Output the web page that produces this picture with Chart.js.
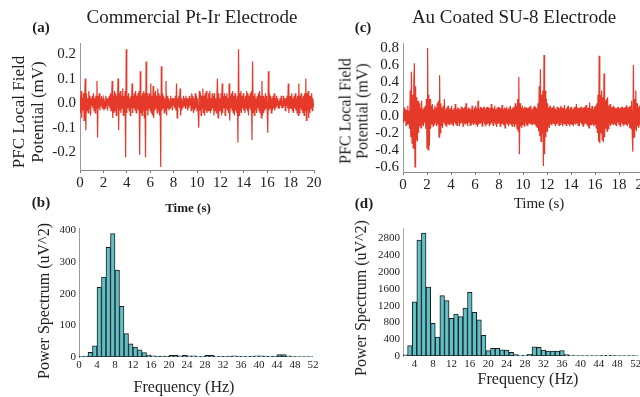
<!DOCTYPE html>
<html><head><meta charset="utf-8">
<script src="https://cdn.jsdelivr.net/npm/chart.js@4.4.0/dist/chart.umd.min.js"></script>
<style>
html,body{margin:0;padding:0;background:#fff;width:640px;height:397px;overflow:hidden;position:relative;font-family:"Liberation Serif","DejaVu Serif",serif;color:#1e1e1e;}
canvas{position:absolute;}
.t{position:absolute;white-space:nowrap;line-height:1;z-index:2;}
.b{font-weight:bold;}
.c{transform:translate(-50%,-50%);}
.rot{transform:translate(-50%,-50%) rotate(-90deg);text-align:center;}
</style></head><body>
<canvas id="ca" width="330" height="180" style="left:0px;top:20px"></canvas>
<canvas id="cc" width="345" height="180" style="left:320px;top:20px"></canvas>
<canvas id="cb" width="330" height="180" style="left:0px;top:205px"></canvas>
<canvas id="cd" width="345" height="180" style="left:320px;top:205px"></canvas>

<div class="t c" style="left:192px;top:16px;font-size:19px">Commercial Pt-Ir Electrode</div>
<div class="t c" style="left:514px;top:16px;font-size:19px">Au Coated SU-8 Electrode</div>
<div class="t c b" style="left:41px;top:27px;font-size:15px">(a)</div>
<div class="t c b" style="left:363px;top:27px;font-size:15px">(c)</div>
<div class="t c b" style="left:41px;top:202px;font-size:15px">(b)</div>
<div class="t c b" style="left:364px;top:203px;font-size:15px">(d)</div>
<div class="t rot" style="left:28px;top:112px;font-size:17px;line-height:18.5px">PFC Local Field<br>Potential (mV)</div>
<div class="t rot" style="left:354px;top:111px;font-size:16px;line-height:16.5px">PFC Local Field<br>Potential (mV)</div>
<div class="t c b" style="left:188px;top:207px;font-size:13px">Time (s)</div>
<div class="t c" style="left:539px;top:203px;font-size:15px">Time (s)</div>
<div class="t c" style="left:184px;top:387px;font-size:16px">Frequency (Hz)</div>
<div class="t c" style="left:528px;top:379px;font-size:16px">Frequency (Hz)</div>
<div class="t rot" style="left:44px;top:301px;font-size:16px">Power Spectrum (uV^2)</div>
<div class="t rot" style="left:361px;top:298px;font-size:16px">Power Spectrum (uV^2)</div>

<script>
const SERIF = "'Liberation Serif','DejaVu Serif',serif";
const sampleStep = 0.05; // s between samples

// (a) Commercial Pt-Ir electrode, PFC LFP (mV), one row per second
const potentialA = [
0.03,-0.04,0.05,-0.06,0.02,-0.03,0.04,-0.07,0.03,0.10,-0.11,0.04,-0.03,0.02,-0.04,0.05,-0.02,0.03,-0.05,0.02,
-0.01,0.03,-0.02,0.04,-0.03,0.02,-0.04,0.03,-0.02,0.09,-0.14,0.03,-0.02,0.04,-0.03,0.02,-0.01,0.03,-0.02,0.01,
0.02,-0.03,0.01,-0.02,0.03,-0.01,0.02,-0.03,0.02,-0.01,0.03,-0.02,0.04,-0.03,0.02,0.09,-0.06,0.03,-0.04,0.05,
-0.03,0.04,-0.05,0.03,-0.02,0.10,-0.11,0.04,-0.03,0.05,-0.04,0.03,-0.02,0.06,-0.05,0.03,-0.04,0.05,-0.22,0.22,
-0.04,0.03,-0.02,0.04,-0.03,0.02,-0.05,0.03,-0.02,0.08,-0.04,0.03,-0.02,0.04,-0.03,0.05,-0.04,0.03,-0.02,0.04,
-0.03,0.05,-0.21,0.13,-0.04,0.03,-0.05,0.04,-0.03,0.05,-0.06,0.04,-0.22,0.17,-0.03,0.04,-0.05,0.03,-0.02,0.04,
-0.03,0.08,-0.04,0.03,-0.05,0.07,-0.06,0.04,-0.03,0.05,-0.02,0.03,-0.04,0.06,-0.03,0.04,-0.05,0.03,-0.26,0.15,
-0.03,0.04,-0.02,0.03,-0.04,0.02,-0.03,0.09,-0.05,0.03,-0.02,0.02,-0.03,0.01,-0.02,0.03,-0.01,0.02,-0.03,0.02,
-0.01,0.02,-0.02,0.03,-0.03,0.08,-0.06,0.02,-0.01,0.03,-0.02,0.06,-0.05,0.02,-0.03,0.01,-0.02,0.03,-0.01,0.02,
-0.02,0.03,-0.01,0.02,-0.03,0.02,-0.02,0.03,-0.01,0.02,-0.03,0.04,-0.02,0.03,-0.04,0.02,-0.03,0.04,-0.02,0.03,
-0.03,0.02,-0.04,-0.10,0.05,-0.03,0.04,-0.05,0.03,-0.02,0.06,-0.04,0.03,-0.05,0.04,-0.03,0.05,-0.04,0.02,-0.03,
0.04,-0.03,0.05,-0.04,0.02,-0.03,0.04,-0.02,0.03,-0.05,0.04,-0.03,0.02,-0.04,0.03,0.10,-0.06,0.04,-0.03,0.02,
-0.03,0.04,-0.05,0.08,-0.04,0.03,-0.02,0.04,-0.05,0.03,-0.02,0.04,-0.03,0.02,-0.04,0.08,-0.07,0.03,-0.02,0.04,
-0.03,0.05,-0.04,0.03,-0.05,0.04,-0.03,0.02,-0.04,0.03,-0.16,0.22,-0.05,0.04,-0.03,0.05,-0.04,0.03,-0.02,0.04,
-0.03,0.02,-0.04,0.03,-0.02,0.05,-0.03,0.04,-0.05,0.03,-0.02,0.04,-0.03,0.05,-0.15,0.17,-0.04,0.03,-0.05,0.04,
-0.03,0.02,-0.04,0.03,-0.02,0.04,-0.03,0.05,-0.04,0.03,-0.06,0.09,-0.05,0.03,-0.04,0.02,-0.03,0.04,-0.02,0.03,
-0.03,-0.12,0.13,-0.03,0.04,-0.02,0.03,-0.04,0.02,-0.03,0.03,-0.02,0.04,-0.03,0.02,-0.02,0.03,-0.01,0.02,-0.02,
0.01,-0.02,0.02,-0.01,0.03,-0.02,0.01,-0.02,0.03,-0.01,0.02,-0.03,0.02,-0.01,0.03,-0.02,0.08,-0.04,0.03,-0.02,
0.03,-0.02,0.04,-0.03,0.02,-0.04,0.03,-0.02,0.04,-0.03,0.02,-0.04,0.03,-0.05,0.08,-0.04,0.03,-0.02,0.04,-0.03,
0.02,-0.04,0.03,-0.05,0.04,-0.03,0.10,-0.07,0.04,-0.03,0.05,-0.06,0.03,-0.04,0.03,-0.02,0.04,-0.03,0.02,-0.01,
0.00];

// (c) Au coated SU-8 electrode, PFC LFP (mV), one row per second
const potentialC = [
0.05,-0.08,0.10,-0.06,0.08,-0.11,0.07,-0.09,0.12,-0.10,0.06,-0.15,0.30,-0.25,0.52,-0.32,0.25,-0.38,0.40,0.62,
-0.60,0.35,-0.28,0.22,-0.30,0.18,-0.20,0.15,-0.12,0.10,-0.14,0.18,-0.10,0.08,-0.12,0.10,-0.08,0.12,-0.15,0.20,
-0.38,0.80,-0.40,0.25,-0.35,0.20,-0.15,0.12,-0.10,0.14,-0.12,0.08,-0.10,0.12,-0.08,0.10,-0.12,0.15,-0.10,0.18,
-0.25,0.48,-0.20,0.15,-0.12,0.10,-0.14,0.12,-0.08,0.20,-0.10,0.08,-0.12,0.10,-0.09,0.12,-0.10,0.08,-0.11,0.09,
-0.08,0.12,-0.10,0.07,-0.12,0.09,-0.08,0.14,-0.10,0.08,-0.11,0.10,-0.07,0.09,-0.12,0.08,-0.09,0.11,-0.08,0.10,
-0.12,0.09,-0.08,0.11,-0.10,0.15,-0.09,0.08,-0.12,0.10,-0.07,0.09,-0.11,0.08,-0.10,0.12,-0.09,0.07,-0.11,0.10,
-0.08,0.12,-0.10,0.09,-0.13,0.18,-0.10,0.08,-0.09,0.11,-0.08,0.10,-0.12,0.09,-0.07,0.11,-0.10,0.08,-0.12,0.10,
-0.09,0.11,-0.08,0.10,-0.12,0.09,-0.10,0.14,-0.08,0.10,-0.11,0.09,-0.07,0.12,-0.10,0.08,-0.13,0.10,-0.09,0.11,
-0.08,0.10,-0.12,0.09,-0.10,0.13,-0.09,0.08,-0.11,0.10,-0.14,0.09,-0.08,0.11,-0.10,0.08,-0.12,0.10,-0.09,0.12,
-0.10,0.08,-0.12,0.10,-0.09,0.11,-0.13,0.15,-0.10,0.12,-0.15,0.20,-0.18,0.46,-0.45,0.15,-0.12,0.10,-0.14,0.12,
-0.10,0.09,-0.12,0.11,-0.08,0.10,-0.11,0.09,-0.12,0.10,-0.08,0.11,-0.09,0.12,-0.10,0.08,-0.11,0.10,-0.09,0.12,
-0.10,0.11,-0.12,0.09,-0.14,0.15,-0.18,0.35,-0.24,0.55,-0.30,0.25,-0.20,0.30,-0.59,0.72,-0.45,0.30,-0.25,0.20,
-0.18,0.15,-0.12,0.10,-0.14,0.12,-0.10,0.09,-0.11,0.10,-0.08,0.12,-0.09,0.10,-0.12,0.08,-0.10,0.11,-0.09,0.10,
-0.11,0.09,-0.10,0.12,-0.08,0.10,-0.12,0.09,-0.10,0.13,-0.09,0.08,-0.11,0.10,-0.09,0.12,-0.10,0.08,-0.12,0.10,
-0.09,0.11,-0.10,0.08,-0.12,0.10,-0.09,0.11,-0.10,0.14,-0.08,0.10,-0.11,0.09,-0.12,0.10,-0.08,0.11,-0.10,0.09,
-0.12,0.10,-0.09,0.11,-0.08,0.13,-0.10,0.09,-0.12,0.10,-0.14,0.16,-0.10,0.09,-0.11,0.12,-0.10,0.08,-0.12,0.11,
-0.10,0.12,-0.14,0.15,-0.20,0.25,-0.30,0.71,-0.32,0.25,-0.20,0.30,-0.28,0.22,-0.31,0.50,-0.25,0.18,-0.15,0.20,
-0.18,0.22,-0.15,0.12,-0.10,0.14,-0.12,0.10,-0.09,0.11,-0.10,0.12,-0.08,0.10,-0.11,0.09,-0.12,0.10,-0.08,0.11,
-0.10,0.09,-0.12,0.10,-0.08,0.11,-0.10,0.09,-0.12,0.10,-0.09,0.11,-0.10,0.13,-0.12,0.10,-0.09,0.11,-0.14,0.12,
-0.15,0.18,-0.20,-0.42,0.60,-0.25,0.20,-0.15,0.30,-0.18,0.15,-0.12,0.10,-0.14,0.12,-0.10,0.08,-0.12,0.10,-0.09,
0.05];

const timeTicks = [0,2,4,6,8,10,12,14,16,18,20];
const mvTicksA = [-0.2,-0.1,0.0,0.1,0.2];
const mvTicksC = [-0.6,-0.4,-0.2,0.0,0.2,0.4,0.6,0.8];

// (b) power spectrum, 1 Hz bins (bin centres, Hz)
const freqB = [0.5,1.5,2.5,3.5,4.5,5.5,6.5,7.5,8.5,9.5,10.5,11.5,12.5,13.5,14.5,15.5,16.5,17.5,18.5,19.5,20.5,21.5,22.5,23.5,24.5,25.5,
26.5,27.5,28.5,29.5,30.5,31.5,32.5,33.5,34.5,35.5,36.5,37.5,38.5,39.5,40.5,41.5,42.5,43.5,44.5,45.5,46.5,47.5,48.5,49.5,50.5,51.5];
const powerB = [2,3,15,35,220,253,347,390,275,160,74,42,31,23,14,6,4,3,3,3,5,5,4,5,4,4,
2,2,5,5,2,2,2,3,4,3,2,2,3,4,4,3,2,3,8,8,4,2,1,1,1,1];
const freqTicksB = [0,4,8,12,16,20,24,28,32,36,40,44,48,52];
const powerTicksB = [0,100,200,300,400];

// (d) power spectrum, 1 Hz bins (bin centres, Hz)
const freqD = [2,3,4,5,6,7,8,9,10,11,12,13,14,15,16,17,18,19,20,21,22,23,24,25,26,27,
28,29,30,31,32,33,34,35,36,37,38,39,40,41,42,43,44,45,46,47,48,49,50,51,52];
const powerD = [25,250,1290,2760,2930,1640,780,450,1440,1320,900,1000,940,1140,1520,1040,860,490,130,180,185,145,140,90,35,15,
15,40,220,205,140,120,115,115,130,35,15,12,12,10,10,10,12,15,18,15,10,8,8,8,8];
const freqTicksD = [4,8,12,16,20,24,28,32,36,40,44,48,52];
const powerTicksD = [0,400,800,1200,1600,2000,2400,2800];

const fixedTicks = arr => s => { s.ticks = arr.map(v => ({value: v})); };
const fixW = w => s => { s.width = w; };
const fixH = h => s => { s.height = h; };

function lineChart(id, vals, yMin, yMax, yTicks, padRight, yW, xH) {
  const pts = vals.map((v, i) => ({x: Math.round(i * sampleStep * 100) / 100, y: v}));
  new Chart(document.getElementById(id), {
    type: 'line',
    data: {datasets: [{data: pts, borderColor: '#e5392a', borderWidth: 1.2, pointRadius: 0, tension: 0, fill: false}]},
    options: {
      responsive: false, animation: false, devicePixelRatio: 1, events: [],
      layout: {padding: {top: 23, right: padRight, left: 0, bottom: 0}},
      plugins: {legend: {display: false}, tooltip: {enabled: false}},
      scales: {
        x: {type: 'linear', min: 0, max: 20, afterBuildTicks: fixedTicks(timeTicks), afterFit: fixH(xH),
          grid: {drawOnChartArea: false, drawTicks: true, tickLength: 3, color: '#777'},
          border: {display: true, color: '#888', dash: [1, 2]},
          ticks: {font: {family: SERIF, size: 15}, color: '#222', padding: 1, maxRotation: 0, autoSkip: false}},
        y: {min: yMin, max: yMax, afterBuildTicks: fixedTicks(yTicks), afterFit: fixW(yW),
          grid: {display: false, drawTicks: false},
          border: {display: true, color: '#999', dash: [1, 2]},
          ticks: {font: {family: SERIF, size: 15}, color: '#222', padding: 4, autoSkip: false, callback: v => v.toFixed(1)}}
      }
    }
  });
}

function barChart(id, xs, ys, xMin, xMax, xTicks, yMax, yTicks, padRight, yW, xH, yBorder) {
  new Chart(document.getElementById(id), {
    type: 'bar',
    data: {datasets: [{data: xs.map((x, i) => ({x: x, y: ys[i]})), backgroundColor: '#5ec1c7', borderColor: '#1c1c1c',
      borderWidth: 1, borderSkipped: false, barPercentage: 1, categoryPercentage: 1}]},
    options: {
      responsive: false, animation: false, devicePixelRatio: 1, events: [],
      layout: {padding: {top: 23, right: padRight, left: 0, bottom: 0}},
      plugins: {legend: {display: false}, tooltip: {enabled: false}},
      scales: {
        x: {type: 'linear', offset: false, min: xMin, max: xMax, afterBuildTicks: fixedTicks(xTicks), afterFit: fixH(xH),
          grid: {display: false, drawTicks: false}, border: {display: false},
          ticks: {font: {family: SERIF, size: 11}, color: '#222', padding: 2, maxRotation: 0, autoSkip: false}},
        y: {min: 0, max: yMax, afterBuildTicks: fixedTicks(yTicks), afterFit: fixW(yW),
          grid: {display: false, drawTicks: false}, border: yBorder,
          ticks: {font: {family: SERIF, size: 11}, color: '#222', padding: 3, autoSkip: false, callback: v => String(v)}}
      }
    }
  });
}

lineChart('ca', potentialA, -0.272, 0.245, mvTicksA, 16, 80, 30);
lineChart('cc', potentialC, -0.66, 0.86, mvTicksC, 22, 83, 28);
barChart('cb', freqB, powerB, 0, 52, freqTicksB, 408, powerTicksB, 17, 79, 28, {display: true, color: '#999', dash: [1, 2]});
barChart('cd', freqD, powerD, 1.5, 52.5, freqTicksD, 3050, powerTicksD, 27, 83, 29, {display: true, color: '#aaa'});
</script>
</body></html>
